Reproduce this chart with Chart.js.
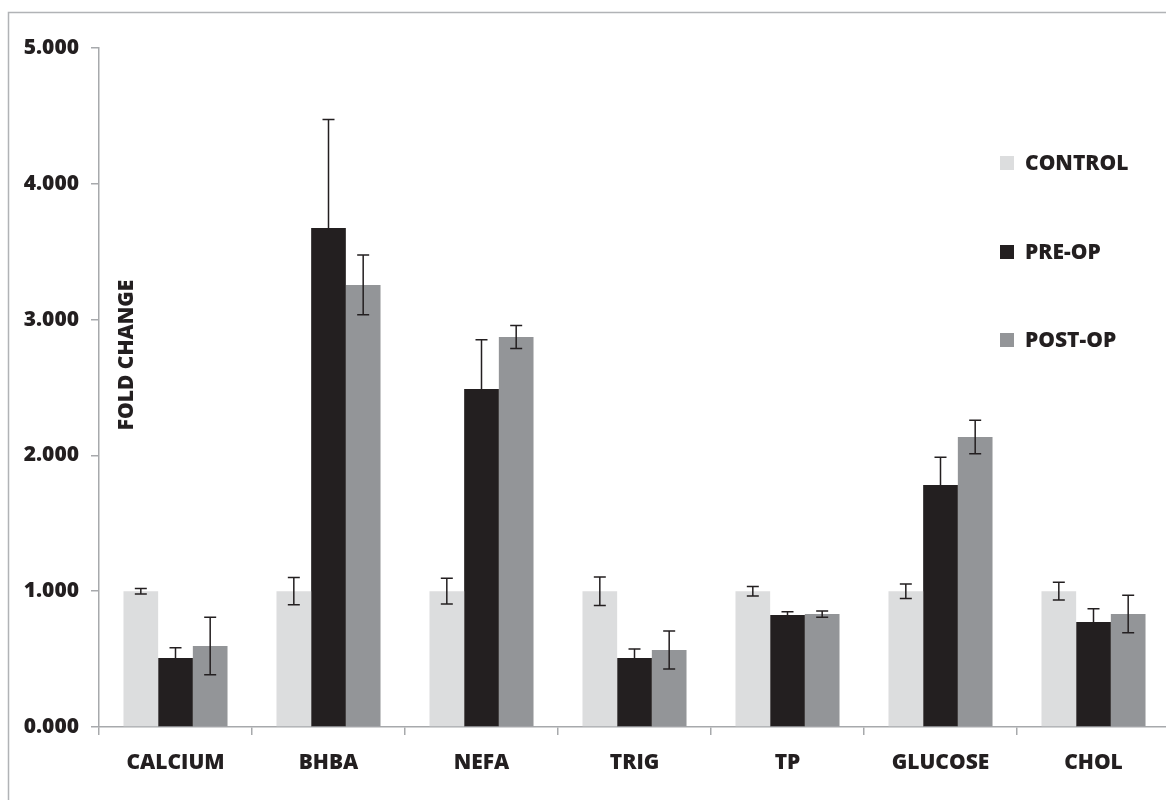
<!DOCTYPE html>
<html>
<head>
<meta charset="utf-8">
<script src="https://cdn.jsdelivr.net/npm/chart.js@4.4.1/dist/chart.umd.min.js"></script>
<style>
html,body{margin:0;padding:0;background:#fff;overflow:hidden;width:1166px;height:800px;}
#wrap{position:absolute;left:0;top:0;width:1190px;height:800px;}
</style>
</head>
<body>
<div id="wrap"><canvas id="c" width="1190" height="800"></canvas></div>
<script>
const categories = ['CALCIUM','BHBA','NEFA','TRIG','TP','GLUCOSE','CHOL'];
const seriesNames = ['CONTROL','PRE-OP','POST-OP'];
const control    = [1.000, 1.000, 1.000, 1.000, 1.000, 1.000, 1.000];
const controlErr = [0.020, 0.100, 0.095, 0.105, 0.035, 0.053, 0.065];
const preOp      = [0.508, 3.674, 2.489, 0.508, 0.825, 1.782, 0.773];
const preOpErr   = [0.076, 0.800, 0.363, 0.066, 0.024, 0.204, 0.098];
const postOp     = [0.596, 3.255, 2.872, 0.567, 0.832, 2.135, 0.832];
const postOpErr  = [0.212, 0.220, 0.085, 0.140, 0.023, 0.123, 0.138];
const yTicks = [0, 1, 2, 3, 4, 5];
const yTitle = 'FOLD CHANGE';

const colors = ['#dcddde', '#231f20', '#939598'];
const FONT = "'Open Sans', 'DejaVu Sans', sans-serif";
const FSIZE = 21;
const FWEIGHT = '800';
const TXT = '#231f20';
const AXIS = '#a7a9ac';

const errSets = [
  {err: controlErr, both: true},
  {err: preOpErr, both: false},
  {err: postOpErr, both: true}
];

const framePlugin = {
  id: 'frame',
  beforeDraw(chart) {
    const ctx = chart.ctx;
    ctx.save();
    ctx.fillStyle = '#fff';
    ctx.fillRect(0, 0, chart.width, chart.height);
    ctx.strokeStyle = '#b1b3b6';
    ctx.lineWidth = 1.5;
    ctx.strokeRect(8.5, 12.5, 2000, 2000);
    ctx.restore();
  }
};

const errorBarPlugin = {
  id: 'errbars',
  afterDatasetsDraw(chart) {
    const ctx = chart.ctx;
    const y = chart.scales.y;
    ctx.save();
    ctx.strokeStyle = TXT;
    ctx.lineWidth = 1.5;
    chart.data.datasets.forEach((ds, di) => {
      const meta = chart.getDatasetMeta(di);
      const es = errSets[di];
      meta.data.forEach((bar, i) => {
        const v = ds.data[i];
        const e = es.err[i];
        const x = bar.x;
        const yTop = y.getPixelForValue(v + e);
        const yBot = es.both ? y.getPixelForValue(v - e) : y.getPixelForValue(v);
        const cap = 6;
        ctx.beginPath();
        ctx.moveTo(x, yTop); ctx.lineTo(x, yBot);
        ctx.moveTo(x - cap, yTop); ctx.lineTo(x + cap, yTop);
        if (es.both) { ctx.moveTo(x - cap, yBot); ctx.lineTo(x + cap, yBot); }
        ctx.stroke();
      });
    });
    ctx.restore();
  }
};

const annotPlugin = {
  id: 'annot',
  afterDraw(chart) {
    const ctx = chart.ctx;
    ctx.save();
    ctx.fillStyle = TXT;
    ctx.font = FWEIGHT + " " + FSIZE + "px " + FONT;
    ctx.translate(127, 355);
    ctx.rotate(-Math.PI / 2);
    ctx.textAlign = 'center';
    ctx.textBaseline = 'middle';
    ctx.fillText(yTitle, 0, 0);
    ctx.restore();
    ctx.save();
    ctx.font = FWEIGHT + " " + FSIZE + "px " + FONT;
    ctx.textBaseline = 'middle';
    ctx.textAlign = 'left';
    const ys = [163, 252, 340];
    chart.data.datasets.forEach((ds, i) => {
      ctx.fillStyle = ds.backgroundColor;
      ctx.fillRect(1000, ys[i] - 7, 14, 14);
      ctx.fillStyle = TXT;
      ctx.fillText(ds.label, 1025, ys[i] + 1);
    });
    ctx.restore();
  }
};

new Chart(document.getElementById('c'), {
  type: 'bar',
  data: {
    labels: categories,
    datasets: [
      {label: seriesNames[0], data: control, backgroundColor: colors[0]},
      {label: seriesNames[1], data: preOp, backgroundColor: colors[1]},
      {label: seriesNames[2], data: postOp, backgroundColor: colors[2]}
    ]
  },
  options: {
    responsive: false,
    animation: false,
    devicePixelRatio: 1,
    layout: {padding: {left: 0, right: 20, top: 48, bottom: 0}},
    datasets: {bar: {categoryPercentage: 0.68, barPercentage: 1.0, borderWidth: 0}},
    plugins: {legend: {display: false}, tooltip: {enabled: false}},
    scales: {
      x: {
        grid: {display: true, drawOnChartArea: false, offset: true, color: AXIS, lineWidth: 1.5, tickLength: 8, tickWidth: 1.5},
        border: {display: true, color: AXIS, width: 1.5},
        ticks: {color: TXT, font: {family: FONT, size: FSIZE, weight: FWEIGHT}, padding: 15},
        afterFit(s) { s.height = 73; }
      },
      y: {
        min: 0, max: 5,
        afterBuildTicks(s) { s.ticks = yTicks.map(v => ({value: v})); },
        grid: {display: true, drawOnChartArea: false, color: AXIS, lineWidth: 1.5, tickLength: 8, tickWidth: 1.5},
        border: {display: true, color: AXIS, width: 1.5},
        ticks: {color: TXT, font: {family: FONT, size: FSIZE, weight: FWEIGHT}, padding: 12,
          callback: v => Number(v).toFixed(3)},
        afterFit(s) { s.width = 99; }
      }
    }
  },
  plugins: [framePlugin, errorBarPlugin, annotPlugin]
});
</script>
</body>
</html>
